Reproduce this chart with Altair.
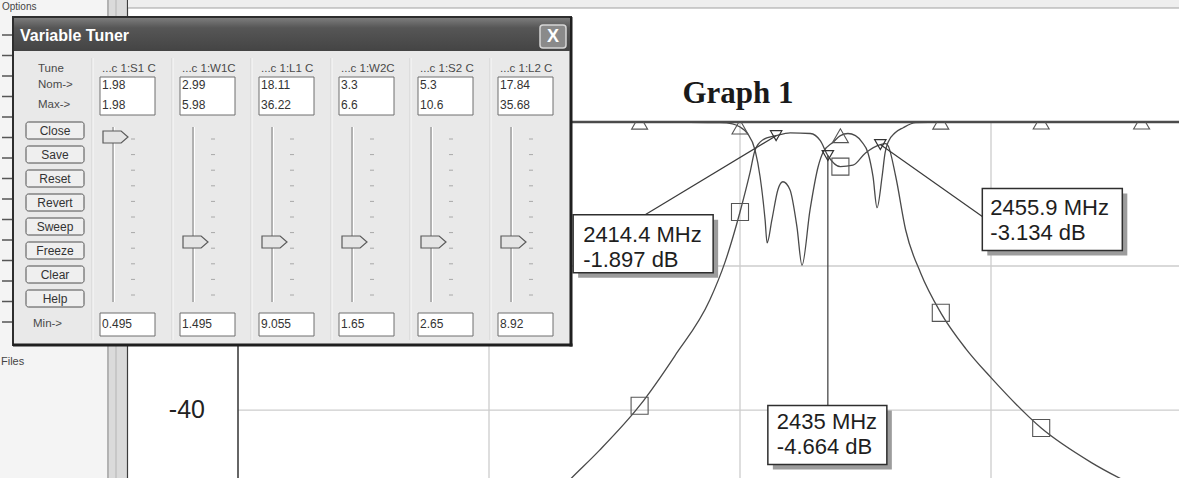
import altair as alt
import pandas as pd

# ---------------- measured traces: frequency (MHz) / magnitude (dB) ----------------
S21_FREQ = [2320, 2333, 2344, 2360, 2374, 2388, 2394, 2400, 2404, 2406, 2409, 2414.4,
            2420, 2428, 2432, 2435, 2440, 2445, 2450, 2455.9, 2458, 2459, 2462, 2466,
            2472, 2480, 2490, 2500, 2520, 2540, 2560, 2575]
S21_DB = [-54.0, -49.4, -45.6, -39.4, -32.5, -24.7, -19.5, -12.5, -7.0, -3.9, -2.5, -1.897,
          -1.5, -1.6, -2.6, -4.664, -6.2, -6.0, -4.3, -3.134, -3.0, -3.3, -7.5, -15.0,
          -21.0, -26.5, -31.5, -35.5, -42.5, -47.3, -51.0, -53.5]

S11_FREQ = [2200, 2360, 2380, 2392, 2397, 2400, 2403, 2406, 2408, 2410, 2410.8, 2412.7,
            2415.1, 2417.1, 2419.9, 2422.7, 2424.7, 2427.9, 2431.1, 2433.1, 2437.1, 2440,
            2443, 2446, 2448.6, 2451, 2453, 2454.6, 2456.6, 2457.8, 2459, 2461.8, 2465,
            2470, 2480, 2575]
S11_DB = [-0.02, -0.03, -0.05, -0.1, -0.25, -0.7, -1.6, -3.9, -7.6, -13.6, -16.8, -13.6,
          -9.4, -8.3, -9.4, -14.6, -19.9, -12.2, -6.25, -4.2, -2.8, -1.9,
          -1.6, -1.9, -2.8, -4.3, -7.6, -11.9, -7.6, -4.3, -2.8, -1.5, -0.8,
          -0.1, -0.03, -0.02]

# trace symbols every 40 MHz
SYMBOL_FREQ = [2360, 2400, 2440, 2480, 2520, 2560]
S21_SYMBOL_DB = [-39.4, -12.5, -6.2, -26.5, -42.5, -51.0]
S11_SYMBOL_DB = [-0.03, -0.7, -1.9, -0.03, -0.02, -0.02]

# markers m1..m3
MARKER_FREQ = [2414.4, 2435.0, 2455.9]
MARKER_DB = [-1.897, -4.664, -3.134]

Y_TICKS = [-40, -20, 0]
X_GRID = [2200, 2300, 2400, 2500]
REF_LEVEL = [0.0]
GRAPH_TITLE = "Graph 1"

# ---------------- tuner dialog contents ----------------
TUNE_NAMES = ["...c 1:S1 C", "...c 1:W1C", "...c 1:L1 C", "...c 1:W2C", "...c 1:S2 C", "...c 1:L2 C"]
TUNE_NOM = [1.98, 2.99, 18.11, 3.3, 5.3, 17.84]
TUNE_MAX = [1.98, 5.98, 36.22, 6.6, 10.6, 35.68]
TUNE_MIN = [0.495, 1.495, 9.055, 1.65, 2.65, 8.92]
BUTTONS = ["Close", "Save", "Reset", "Revert", "Sweep", "Freeze", "Clear", "Help"]
ROW_LABELS = ["Tune", "Nom->", "Max->", "Min->"]

# ---------------- layout (page pixels) ----------------
OX, OY = 238, 122            # top-left corner of the plot area on the page
PLOT_W, PLOT_H = 941, 356
X_DOMAIN = [2200, 2574.9]
Y_DOMAIN = [-49.44, 0]
INK = "#4a4a4a"
GRID = "#cdcdcd"
UI_FONT = "Liberation Sans"

# dialog frame (page pixels)
L, T, R, B = 13, 17, 571, 345

x_scale = alt.Scale(domain=X_DOMAIN, nice=False, zero=False)
y_scale = alt.Scale(domain=Y_DOMAIN, nice=False, zero=False)


def page_df(rows, cols):
    df = pd.DataFrame(rows, columns=cols)
    for c in cols:
        if c.startswith("x"):
            df[c] = df[c] - OX
        elif c.startswith("y"):
            df[c] = df[c] - OY
    return df


def boxes(rows, **style):
    df = page_df(rows, ["x", "y", "x2", "y2"])
    return alt.Chart(df).mark_rect(**style).encode(
        x=alt.X("x:Q", scale=None), x2="x2:Q",
        y=alt.Y("y:Q", scale=None), y2="y2:Q")


def segments(rows, **style):
    df = page_df(rows, ["x", "y", "x2", "y2"])
    return alt.Chart(df).mark_rule(**style).encode(
        x=alt.X("x:Q", scale=None), x2="x2:Q",
        y=alt.Y("y:Q", scale=None), y2="y2:Q")


def labels(rows, **style):
    df = page_df(rows, ["x", "y", "text"])
    return alt.Chart(df).mark_text(**style).encode(
        x=alt.X("x:Q", scale=None), y=alt.Y("y:Q", scale=None), text="text:N")


def fx(field="f"):
    return alt.X(f"{field}:Q", scale=x_scale, axis=None)


def fy(field="db"):
    return alt.Y(f"{field}:Q", scale=y_scale, axis=None)


layers = []

# ---------- application chrome behind the graph ----------
layers.append(boxes([(0, 0, 107, 478)], fill="#f4f4f4"))
layers.append(segments([(2, 35 + 20.5 * i, 12, 35 + 20.5 * i) for i in range(15)],
                       color="#555555", strokeWidth=1.5))
layers.append(boxes([(107, 0, 128, 478)], fill="#dadada"))
layers.append(segments([(108, 0, 108, 478)], color="#8a8a8a", strokeWidth=1))
layers.append(segments([(116, 0, 116, 478)], color="#b4b4b4", strokeWidth=1))
layers.append(segments([(127.5, 0, 127.5, 478)], color="#3c3c3c", strokeWidth=1.2))
layers.append(boxes([(128, 0, 1179, 8)], fill="#eeeeee"))
layers.append(segments([(128, 8, 1179, 8)], color="#a0a0a0", strokeWidth=1))
layers.append(labels([(2, 7, "Options")], font=UI_FONT, fontSize=10, color="#444",
                     align="left", baseline="middle"))
layers.append(labels([(1, 362, "Files")], font=UI_FONT, fontSize=11, color="#444",
                     align="left", baseline="middle"))

# ---------- the graph ----------
s21 = pd.DataFrame({"f": S21_FREQ, "db": S21_DB})
s11 = pd.DataFrame({"f": S11_FREQ, "db": S11_DB})

# grid, left axis line and its labels
layers.append(alt.Chart(pd.DataFrame({"f": X_GRID[1:]})).mark_rule(
    color=GRID, strokeWidth=1.3).encode(x=fx()))
layers.append(alt.Chart(pd.DataFrame({"db": [t for t in Y_TICKS if t != 0]})).mark_rule(
    color=GRID, strokeWidth=1.3).encode(y=fy()))
layers.append(alt.Chart(pd.DataFrame({"f": X_GRID[:1]})).mark_rule(
    color="#333333", strokeWidth=1.5).encode(x=fx()))
# tick labels that sit behind the dialog are left out
px_per_db = PLOT_H / (Y_DOMAIN[1] - Y_DOMAIN[0])
shown_ticks = [t for t in Y_TICKS if OY + (Y_DOMAIN[1] - t) * px_per_db > B]
ytick_df = pd.DataFrame({"f": [X_GRID[0]] * len(shown_ticks), "db": shown_ticks,
                         "text": [str(t) for t in shown_ticks]})
layers.append(alt.Chart(ytick_df).mark_text(
    font=UI_FONT, fontSize=25, color="#222222", align="right", baseline="middle",
    dx=-33).encode(x=fx(), y=fy(), text="text:N"))

# 0 dB reference line forming the top frame
layers.append(alt.Chart(pd.DataFrame({"level": REF_LEVEL})).mark_rule(
    color="#4d4d4d", strokeWidth=2.6).encode(y=fy("level")))

layers.append(alt.Chart(s21).mark_line(
    color=INK, strokeWidth=1.3, interpolate="monotone", clip=True).encode(x=fx(), y=fy()))
layers.append(alt.Chart(s11).mark_line(
    color=INK, strokeWidth=1.3, interpolate="monotone", clip=True).encode(x=fx(), y=fy()))

sym = pd.DataFrame({"f": SYMBOL_FREQ, "s21": S21_SYMBOL_DB, "s11": S11_SYMBOL_DB})
layers.append(alt.Chart(sym).mark_point(
    shape="square", size=290, filled=False, color="#555555", strokeWidth=1.1,
    opacity=1, clip=True).encode(x=fx(), y=fy("s21")))
layers.append(alt.Chart(sym).mark_point(
    shape="triangle-up", size=256, filled=False, color="#555555", strokeWidth=1.1,
    opacity=1, clip=True).encode(x=fx(), y=fy("s11")))

layers.append(labels([(738, 103, GRAPH_TITLE)], font="Liberation Serif", fontSize=31,
                     fontWeight="bold", color="#1a1a1a", align="center",
                     baseline="alphabetic"))

# ---------- marker read-outs ----------
# box (x0, y0, x1, y1), leader end (dx, dy), text origin (dx, dy), relative to the marker point
LABEL_OFFSETS = [
    ((-203, 79, -63, 137), (-131, 79), (-193, 106)),
    ((-60, 250, 59, 309), (0, 250), (-51, 273)),
    ((102, 44, 242, 106), (102, 72), (110, 70)),
]
for f, db, (bx, lead, tpos) in zip(MARKER_FREQ, MARKER_DB, LABEL_OFFSETS):
    mdf = pd.DataFrame({"f": [f], "db": [db], "text": [f"{f:g} MHz\n{db:.3f} dB"]})
    layers.append(alt.Chart(mdf).mark_rule(
        color="#3a3a3a", strokeWidth=1.2, x2Offset=lead[0], y2Offset=lead[1]).encode(
        x=fx(), y=fy(), x2="f:Q", y2="db:Q"))
    layers.append(alt.Chart(mdf).mark_rect(
        fill="#9c9c9c", xOffset=bx[0] + 5, x2Offset=bx[2] + 5,
        yOffset=bx[1] + 5, y2Offset=bx[3] + 5).encode(x=fx(), y=fy(), x2="f:Q", y2="db:Q"))
    layers.append(alt.Chart(mdf).mark_rect(
        fill="white", stroke="#2e2e2e", strokeWidth=1.5, xOffset=bx[0], x2Offset=bx[2],
        yOffset=bx[1], y2Offset=bx[3]).encode(x=fx(), y=fy(), x2="f:Q", y2="db:Q"))
    layers.append(alt.Chart(mdf).mark_text(
        font=UI_FONT, fontSize=22, color="#1e1e1e", align="left", baseline="alphabetic",
        lineBreak="\n", lineHeight=25, dx=tpos[0], dy=tpos[1]).encode(
        x=fx(), y=fy(), text="text:N"))

markers = pd.DataFrame({"f": MARKER_FREQ, "db": MARKER_DB})
layers.append(alt.Chart(markers).mark_point(
    shape="triangle-down", size=130, filled=False, color="#333333", strokeWidth=1.2,
    opacity=1).encode(x=fx(), y=fy()))

# ---------- Variable Tuner dialog ----------
COL_X0 = [100, 180, 259, 339, 418, 498]
COL_W = 55
HEADER_Y, NOM_Y, MAX_Y, MIN_Y = 69, 85, 105, 324
TRACK_TOP, TRACK_BOTTOM = 127, 302
THUMB_AT_MIN, THUMB_AT_MAX = 294.5, 137
BTN_X0, BTN_X1, BTN_Y0, BTN_STEP, BTN_H = 26, 84, 122, 24, 17

layers.append(boxes([(L, T, R, B)], fill="#e9e9e9", stroke="#2e2e2e", strokeWidth=2))
layers.append(segments([(R, T, R, B + 1.5), (L, B, R + 1.5, B)], color="#1f1f1f", strokeWidth=3))
layers.append(boxes([(L + 1, T + 1, R - 1, 51)], fill=alt.Gradient(
    gradient="linear", x1=0, x2=0, y1=0, y2=1,
    stops=[alt.GradientStop(offset=0, color="#7c7c7c"),
           alt.GradientStop(offset=0.3, color="#565656"),
           alt.GradientStop(offset=1, color="#444444")])))
layers.append(labels([(20, 36, "Variable Tuner")], font=UI_FONT, fontSize=16,
                     fontWeight="bold", color="white", align="left", baseline="middle"))
layers.append(boxes([(540, 25, 566, 48)], fill="#8a8a8a", stroke="#d6d6d6",
                    strokeWidth=1.5, cornerRadius=3))
layers.append(labels([(553, 37, "X")], font=UI_FONT, fontSize=18, fontWeight="bold",
                     color="white", align="center", baseline="middle"))

# column panels
sep_dark = [(x0 - 8, 58, x0 - 8, 340) for x0 in COL_X0]
sep_light = [(x0 - 7, 58, x0 - 7, 340) for x0 in COL_X0]
layers.append(segments(sep_dark, color="#d0d0d0", strokeWidth=1))
layers.append(segments(sep_light, color="#fafafa", strokeWidth=1))

# row captions
layers.append(labels([(38, HEADER_Y, ROW_LABELS[0]), (38, NOM_Y, ROW_LABELS[1]),
                      (38, MAX_Y, ROW_LABELS[2]), (33, MIN_Y, ROW_LABELS[3])],
                     font=UI_FONT, fontSize=11.5, color="#4a4a4a", align="left",
                     baseline="middle"))
layers.append(labels([(x0 + 2, HEADER_Y, n) for x0, n in zip(COL_X0, TUNE_NAMES)],
                     font=UI_FONT, fontSize=11.5, color="#4a4a4a", align="left",
                     baseline="middle"))

# value boxes
layers.append(boxes([(x0, 77, x0 + COL_W, 115) for x0 in COL_X0] +
                    [(x0, 313, x0 + COL_W, 336) for x0 in COL_X0],
                    fill="white", stroke="#6e6e6e", strokeWidth=1))
value_rows = ([(x0 + 2, NOM_Y, str(v)) for x0, v in zip(COL_X0, TUNE_NOM)] +
              [(x0 + 2, MAX_Y, str(v)) for x0, v in zip(COL_X0, TUNE_MAX)] +
              [(x0 + 2, MIN_Y, str(v)) for x0, v in zip(COL_X0, TUNE_MIN)])
layers.append(labels(value_rows, font=UI_FONT, fontSize=12, color="#333333",
                     align="left", baseline="middle"))

# slider tracks and tick marks
layers.append(segments([(x0 + 13, TRACK_TOP, x0 + 13, TRACK_BOTTOM) for x0 in COL_X0],
                       color="#8c8c8c", strokeWidth=1.2))
layers.append(segments([(x0 + 14.5, TRACK_TOP, x0 + 14.5, TRACK_BOTTOM) for x0 in COL_X0],
                       color="#ffffff", strokeWidth=1))
ticks = [(x0 + 31, 139 + 15.6 * i, x0 + 35, 139 + 15.6 * i)
         for x0 in COL_X0 for i in range(11)]
layers.append(segments(ticks, color="#a8a8a8", strokeWidth=1))

# slider thumbs placed from each variable's nominal value within its range
thumb_rows = []
for x0, lo, hi, nom in zip(COL_X0, TUNE_MIN, TUNE_MAX, TUNE_NOM):
    frac = (nom - lo) / (hi - lo)
    thumb_rows.append((x0 + 15.5, THUMB_AT_MIN + frac * (THUMB_AT_MAX - THUMB_AT_MIN)))
thumbs = page_df(thumb_rows, ["x", "y"])
layers.append(alt.Chart(thumbs).mark_point(
    shape="M-1,-0.48L0.45,-0.48L1,0L0.45,0.48L-1,0.48Z", size=625, filled=True,
    fill="#e4e4e4", stroke="#5a5a5a", strokeWidth=1.2, opacity=1).encode(
    x=alt.X("x:Q", scale=None), y=alt.Y("y:Q", scale=None)))

# buttons
btn_boxes = [(BTN_X0, BTN_Y0 + BTN_STEP * i, BTN_X1, BTN_Y0 + BTN_STEP * i + BTN_H)
             for i in range(len(BUTTONS))]
layers.append(boxes(btn_boxes, fill="#efefef", stroke="#4d4d4d", strokeWidth=1,
                    cornerRadius=2.5))
layers.append(labels([((BTN_X0 + BTN_X1) / 2, BTN_Y0 + BTN_STEP * i + BTN_H / 2, b)
                      for i, b in enumerate(BUTTONS)],
                     font=UI_FONT, fontSize=12, color="#333333", align="center",
                     baseline="middle"))

chart = alt.layer(*layers).properties(
    width=PLOT_W, height=PLOT_H,
    padding={"left": OX, "top": OY, "right": 0, "bottom": 0},
    autosize=alt.AutoSizeParams(type="none"),
    background="white",
).configure_view(strokeWidth=0)

chart.save("out.html", embed_options={"renderer": "svg", "actions": False})
